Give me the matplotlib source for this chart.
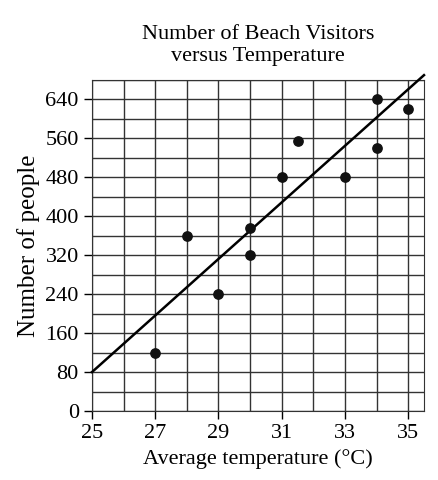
import matplotlib
matplotlib.use("Agg")
import matplotlib.pyplot as plt
import numpy as np

plt.rcParams['font.family'] = ['Liberation Serif', 'DejaVu Serif']

temps = [27, 28, 29, 30, 30, 31, 31.5, 33, 34, 34, 35]
people = [120, 360, 240, 375, 320, 480, 555, 480, 640, 540, 620]
line_x = [25, 35.5]
line_y = [80, 690]

fig = plt.figure(figsize=(4.38, 4.80), dpi=100)
ax = fig.add_axes([92/438, 69/480, 332/438, 331/480])
ax.set_xlim(25, 35.5)
ax.set_ylim(0, 680)
ax.set_xticks(np.arange(25, 36, 1), minor=True)
ax.set_yticks(np.arange(0, 681, 40), minor=True)
ax.set_xticks(np.arange(25, 36, 2))
ax.set_yticks(np.arange(0, 641, 80))
ax.grid(True, which='both', color='#333333', linewidth=1.0)
ax.tick_params(which='minor', length=0)
ax.tick_params(which='major', direction='out', length=6, width=1, labelsize=16, color='black')
for s in ax.spines.values():
    s.set_color('#333333')
ax.plot(line_x, line_y, color='black', linewidth=1.8, clip_on=False, zorder=3)
ax.scatter(temps, people, s=45, color='#111111', zorder=4)
ax.set_xlabel('Average temperature (°C)', fontsize=16)
ax.set_ylabel('Number of people', fontsize=18)
ax.set_title('Number of Beach Visitors\nversus Temperature', fontsize=16, pad=14)
fig.savefig('out.png')
